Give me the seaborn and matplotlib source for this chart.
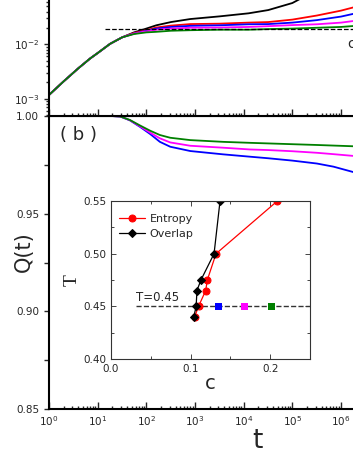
import numpy as np
import matplotlib
matplotlib.use('Agg')
from matplotlib import pyplot as plt
from matplotlib.ticker import FixedLocator, FormatStrFormatter, LogLocator, NullFormatter
import seaborn as sns

# (a) upper panel
t_a = [1, 2, 4, 7, 10, 18, 32, 56, 100, 160, 320, 800, 3200, 12600, 32000,
       1e5, 3.2e5, 1e6, 2e6]
early = [0.001175, 0.00209, 0.00363, 0.0055, 0.00692, 0.01023, 0.01349]
msd_black = early + [0.0166, 0.0195, 0.0224, 0.0257, 0.0292, 0.0327, 0.0372, 0.0427,
                     0.0575, 0.100, 0.158, 0.200]
msd_red = early + [0.0162, 0.0182, 0.0204, 0.0221, 0.0236, 0.0240, 0.0251, 0.0257,
                   0.0285, 0.0339, 0.0417, 0.0490]
msd_blue = early + [0.0158, 0.0178, 0.0195, 0.0209, 0.0219, 0.0224, 0.0234, 0.0236,
                    0.0251, 0.0279, 0.0324, 0.0372]
msd_magenta = early + [0.0158, 0.0174, 0.0186, 0.0195, 0.0202, 0.0204, 0.0209, 0.0216,
                       0.0226, 0.0234, 0.0251, 0.0272]
msd_green = early + [0.0155, 0.0166, 0.0170, 0.0178, 0.0182, 0.0186, 0.0186, 0.0191,
                     0.0195, 0.0202, 0.0209, 0.0219]
plateau = 0.019

# (b) Q(t)
t_b = [1, 10, 20, 29, 46, 74, 120, 190, 310, 800, 3800, 13500, 32000, 1e5, 3.2e5, 7e5, 2e6]
q_green = [1, 1, 1, 0.9998, 0.9980, 0.9952, 0.9925, 0.9903, 0.9889, 0.9877, 0.9868,
           0.9863, 0.9860, 0.9856, 0.9852, 0.9849, 0.9845]
q_magenta = [1, 1, 1, 0.9998, 0.9979, 0.9948, 0.9915, 0.9886, 0.9865, 0.9848, 0.9838,
             0.9829, 0.9826, 0.9820, 0.9812, 0.9805, 0.9795]
q_blue = [1, 1, 1, 0.9998, 0.9978, 0.9945, 0.9908, 0.9868, 0.9843, 0.9821, 0.9804,
          0.9792, 0.9784, 0.9772, 0.9757, 0.9741, 0.9710]

# inset
T_vals = [0.44, 0.45, 0.465, 0.475, 0.50, 0.55]
c_entropy = [0.105, 0.110, 0.119, 0.121, 0.132, 0.209]
c_overlap = [0.104, 0.107, 0.108, 0.113, 0.1295, 0.137]
c_squares = [0.135, 0.168, 0.202]
T_squares = [0.45, 0.45, 0.45]
square_names = ['blue', 'magenta', 'green']

BLUE, MAGENTA, GREEN, RED = '#0000ff', '#ff00ff', '#008000', '#ff0000'

sns.set_style('ticks')
plt.rcParams['font.family'] = ['DejaVu Sans']

fig = plt.figure(figsize=(3.53, 4.57), dpi=100)
ax_b = fig.add_axes([0.1388, 0.105, 0.8824, 0.641])
ax_a = fig.add_axes([0.1388, 0.746, 0.8824, 0.2998])

lw = 1.3
for vals, col in [(msd_black, 'black'), (msd_red, RED), (msd_blue, BLUE),
                  (msd_magenta, MAGENTA), (msd_green, GREEN)]:
    sns.lineplot(x=t_a, y=vals, ax=ax_a, color=col, lw=lw)
ax_a.hlines(plateau, 14, 10**6.4, colors='black', linestyles='--', lw=0.9)
ax_a.set_xscale('log')
ax_a.set_yscale('log')
ax_a.set_xlim(1, 10**6.4)
ax_a.set_ylim(10**-3.318, 10**-0.80)
ax_a.yaxis.set_major_locator(FixedLocator([1e-3, 1e-2]))
ax_a.yaxis.set_minor_locator(LogLocator(base=10, subs=np.arange(2, 10), numticks=20))
ax_a.text(10**6.13, 0.0100, 'c', fontsize=10, va='center')

for vals, col in [(q_blue, BLUE), (q_magenta, MAGENTA), (q_green, GREEN)]:
    sns.lineplot(x=t_b, y=vals, ax=ax_b, color=col, lw=lw)
ax_b.set_xscale('log')
ax_b.set_xlim(1, 10**6.4)
ax_b.set_ylim(0.85, 1.00)
ax_b.yaxis.set_major_locator(FixedLocator([0.85, 0.90, 0.95, 1.00]))
ax_b.yaxis.set_minor_locator(FixedLocator([0.875, 0.925, 0.975]))
ax_b.yaxis.set_major_formatter(FormatStrFormatter('%.2f'))

for ax in (ax_a, ax_b):
    ax.set_xlabel('')
    ax.set_ylabel('')
    ax.xaxis.set_major_locator(LogLocator(base=10, numticks=20))
    ax.xaxis.set_minor_locator(LogLocator(base=10, subs=np.arange(2, 10), numticks=20))
    ax.xaxis.set_minor_formatter(NullFormatter())
    for side in ('left', 'bottom', 'top', 'right'):
        ax.spines[side].set_linewidth(1.5)
        ax.spines[side].set_color('black')
    ax.tick_params(axis='x', which='both', direction='in', labelsize=7.5, width=1)
    ax.tick_params(axis='x', which='major', length=5)
    ax.tick_params(axis='x', which='minor', length=2.5)
    ax.tick_params(axis='y', which='both', direction='out', labelsize=7.5, width=1, length=3.5)
ax_a.tick_params(axis='x', labelbottom=False)
ax_a.yaxis.set_minor_formatter(NullFormatter())
ax_a.tick_params(axis='y', which='minor', length=2)
sns.despine(ax=ax_a, top=True, right=True)
sns.despine(ax=ax_b, top=False, right=True)

ax_b.text(0.035, 0.935, '( b )', transform=ax_b.transAxes, fontsize=13, va='center')
ax_b.set_xlabel('t', fontsize=19)
ax_b.xaxis.set_label_coords(0.668, -0.065)
ax_b.set_ylabel('Q(t)', fontsize=15)
ax_b.yaxis.set_label_coords(-0.05, 0.536)

# inset
ax_in = fig.add_axes([0.3144, 0.2144, 0.5637, 0.3457])
ax_in.hlines(0.45, 0.031, 0.25, colors='#333333', linestyles='--', lw=1.0)
sns.lineplot(x=c_entropy, y=T_vals, ax=ax_in, sort=False, color=RED, lw=0.9,
             marker='o', markersize=5, markeredgecolor=RED, label='Entropy')
sns.lineplot(x=c_overlap, y=T_vals, ax=ax_in, sort=False, color='black', lw=0.9,
             marker='D', markersize=4.5, markeredgecolor='black', label='Overlap')
sns.scatterplot(x=c_squares, y=T_squares, hue=square_names, palette=[BLUE, MAGENTA, GREEN],
                marker='s', s=28, linewidth=0, ax=ax_in, legend=False, zorder=5)
ax_in.set_xlim(0, 0.25)
ax_in.set_ylim(0.40, 0.55)
ax_in.xaxis.set_major_locator(FixedLocator([0.0, 0.1, 0.2]))
ax_in.xaxis.set_minor_locator(FixedLocator([0.05, 0.15, 0.25]))
ax_in.xaxis.set_major_formatter(FormatStrFormatter('%.1f'))
ax_in.yaxis.set_major_locator(FixedLocator([0.40, 0.45, 0.50, 0.55]))
ax_in.yaxis.set_minor_locator(FixedLocator([0.425, 0.475, 0.525]))
ax_in.yaxis.set_major_formatter(FormatStrFormatter('%.2f'))
ax_in.tick_params(which='both', direction='in', top=True, right=True, labelsize=7.5,
                  width=0.7, color='#444444')
ax_in.tick_params(which='major', length=3.5)
ax_in.tick_params(which='minor', length=2)
for side in ('left', 'bottom', 'top', 'right'):
    ax_in.spines[side].set_linewidth(0.8)
    ax_in.spines[side].set_color('#333333')
ax_in.set_xlabel('c', fontsize=14, labelpad=0)
ax_in.set_ylabel('T', fontsize=14, family=['Liberation Serif', 'DejaVu Serif'], labelpad=2)
ax_in.text(0.031, 0.452, 'T=0.45', fontsize=8.5, va='bottom')
ax_in.legend(loc='upper left', bbox_to_anchor=(0.0, 0.97), frameon=False, fontsize=8,
             handlelength=2.4, handletextpad=0.4, labelspacing=0.5, borderaxespad=0.3)

fig.savefig('out.png', dpi=100)
